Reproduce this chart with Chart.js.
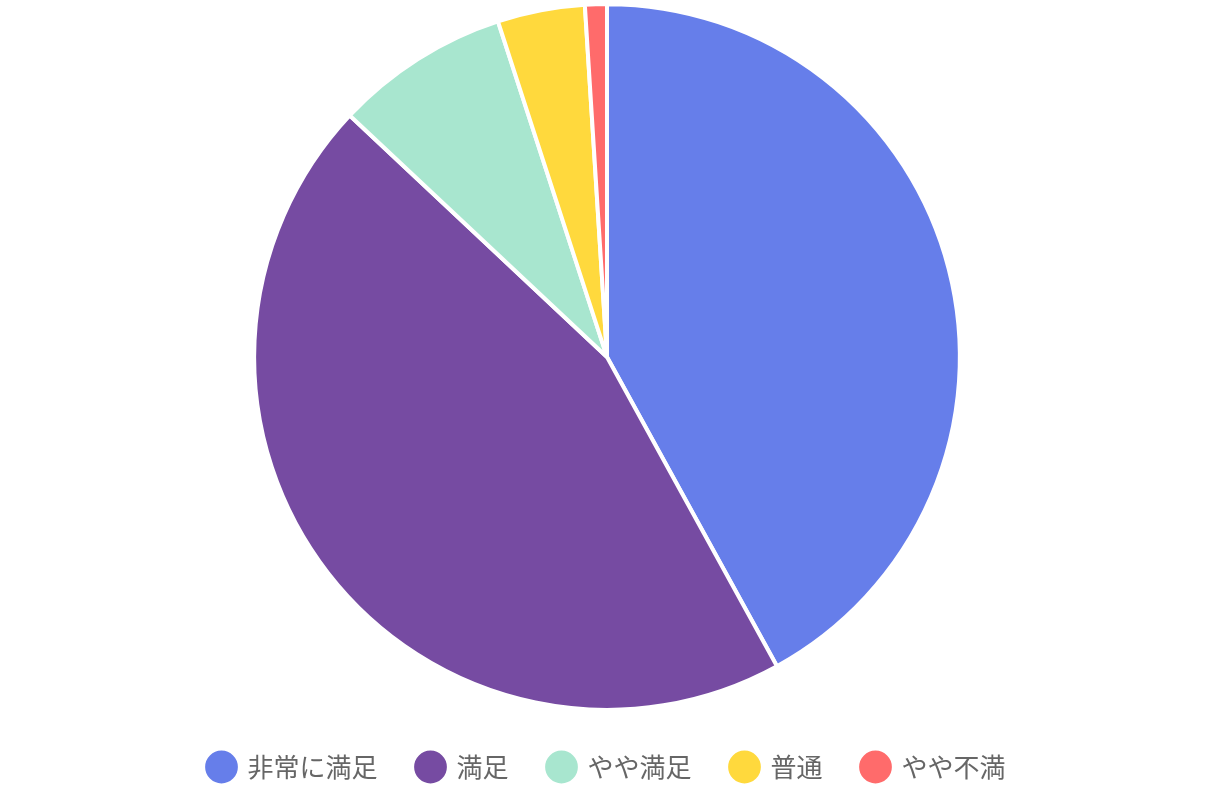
<!DOCTYPE html>
<html>
<head>
<meta charset="utf-8">
<script src="https://cdn.jsdelivr.net/npm/chart.js@4/dist/chart.umd.min.js"></script>
<style>
html,body{margin:0;padding:0;background:#fff;}
#wrap{width:1214px;height:800px;position:relative;}
</style>
</head>
<body>
<div id="wrap"><canvas id="c"></canvas></div>
<script>
const categories = ['非常に満足', '満足', 'やや満足', '普通', 'やや不満'];
const values = [42, 45, 8, 4, 1];
const colors = ['#667eea', '#764ba2', '#a8e6cf', '#ffd93d', '#ff6b6b'];

new Chart(document.getElementById('c'), {
  type: 'pie',
  data: {
    labels: categories,
    datasets: [{
      data: values,
      backgroundColor: colors,
      borderColor: '#ffffff',
      borderWidth: 4
    }]
  },
  options: {
    responsive: true,
    maintainAspectRatio: false,
    animation: false,
    radius: '99.4%',
    layout: { padding: { bottom: 10 } },
    plugins: {
      legend: {
        position: 'bottom',
        labels: {
          usePointStyle: true,
          pointStyle: 'circle',
          padding: 40,
          color: '#666666',
          font: { family: "'Noto Sans CJK JP', sans-serif", size: 26 }
        }
      },
      tooltip: { enabled: false }
    }
  }
});
</script>
</body>
</html>
